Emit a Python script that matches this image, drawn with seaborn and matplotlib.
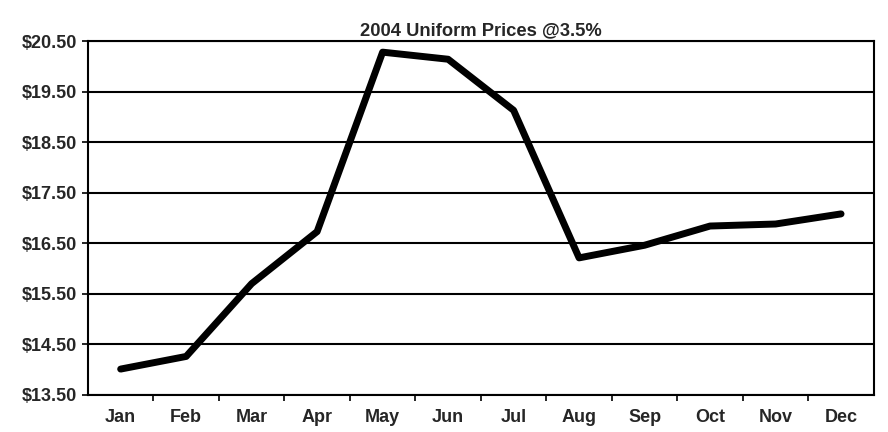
import numpy as np
import pandas as pd
import seaborn as sns
import matplotlib.pyplot as plt
from matplotlib.ticker import FixedLocator

months = ['Jan', 'Feb', 'Mar', 'Apr', 'May', 'Jun',
          'Jul', 'Aug', 'Sep', 'Oct', 'Nov', 'Dec']
prices = [14.01, 14.26, 15.70, 16.73, 20.28, 20.14,
          19.13, 16.21, 16.46, 16.84, 16.88, 17.08]
y_ticks = [13.5, 14.5, 15.5, 16.5, 17.5, 18.5, 19.5, 20.5]

sns.set_style('white')
plt.rcParams['font.family'] = ['Liberation Sans', 'DejaVu Sans']

df = pd.DataFrame({'month': months, 'price': prices})

fig = plt.figure(figsize=(8.88, 4.32), dpi=100)
ax = fig.add_axes([0.099, 0.086, 0.885, 0.819])

sns.lineplot(data=df, x='month', y='price', ax=ax, color='black',
             linewidth=5, sort=False, solid_capstyle='round', zorder=3)

ax.set_xlim(-0.5, len(months) - 0.5)
ax.set_ylim(13.5, 20.5)
ax.set_yticks(y_ticks)
ax.set_yticklabels(['${:.2f}'.format(v) for v in y_ticks])
ax.yaxis.grid(True, color='black', linewidth=1.5)
ax.set_axisbelow(True)

ax.set_xticks(range(len(months)))
ax.set_xticklabels(months)
ax.xaxis.set_minor_locator(FixedLocator(np.arange(0.5, len(months) - 0.5, 1)))
ax.tick_params(axis='x', which='major', length=0, pad=10)
ax.tick_params(axis='x', which='minor', length=4, width=1.2, direction='out', color='black', bottom=True)
ax.tick_params(axis='y', length=4, width=1.2, direction='out', color='black', left=True, pad=4)

for lbl in ax.get_xticklabels() + ax.get_yticklabels():
    lbl.set_fontweight('bold')
    lbl.set_fontsize(13)

for side in ['left', 'right', 'bottom', 'top']:
    ax.spines[side].set_color('black')
    ax.spines[side].set_linewidth(1.5)
ax.spines['top'].set_visible(True)

ax.set_xlabel('')
ax.set_ylabel('')
ax.set_title('2004 Uniform Prices @3.5%', fontweight='bold', fontsize=13.2, pad=4)

plt.savefig('out.png', dpi=100)
plt.close()
